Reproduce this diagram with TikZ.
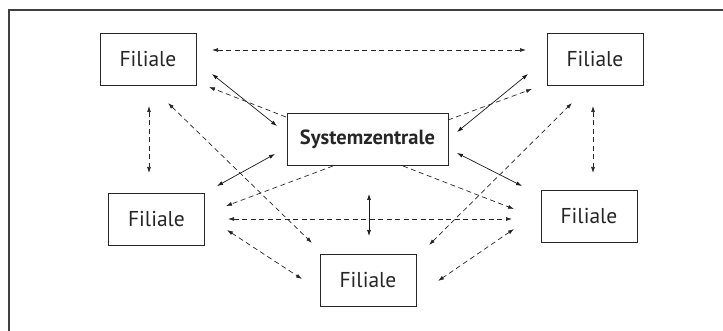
\documentclass[tikz,border=0pt]{standalone}
\usepackage{fontspec}
\setmainfont{PT Sans}
\usetikzlibrary{arrows.meta}
\begin{document}
\begin{tikzpicture}[x=1pt,y=-1pt,
  box/.style={draw=black!85,line width=0.9pt,minimum width=#1,minimum height=52pt,inner sep=0pt,font=\fontsize{21.5}{24}\selectfont,text=black!85},
  box/.default=96pt,
  tip/.style={-{Latex[length=6pt,width=4pt]}},
  dtip/.style={{Latex[length=6pt,width=4pt]}-{Latex[length=6pt,width=4pt]}},
  sol/.style={line width=0.7pt,draw=black!90},
  dsh/.style={line width=0.7pt,draw=black!85,dash pattern=on 5pt off 3.5pt}]
\useasboundingbox (0,0) rectangle (723,331);
\draw[line width=1.3pt,black!75] (9,331) -- (9,10) -- (723,10);
% boxes
\node[box] (tl) at (148,59) {Filiale};
\node[box] (tr) at (595,59) {Filiale};
\node[box=161pt,font=\fontsize{20.5}{24}\selectfont\bfseries] (sz) at (367.5,139) {Systemzentrale};
\node[box] (ml) at (156.5,219) {Filiale};
\node[box] (mr) at (589,216.5) {Filiale};
\node[box] (bo) at (368,280) {Filiale};
% end points
\coordinate (a1) at (212,50); \coordinate (a2) at (526,50);
\coordinate (b1) at (212,74); \coordinate (b2) at (277,126);
\coordinate (c1) at (286,117); \coordinate (c2) at (209,87);
\coordinate (d1) at (168,103); \coordinate (d2) at (312,243);
\coordinate (e1) at (149,106); \coordinate (e2) at (149,173);
\coordinate (f1) at (217,186); \coordinate (f2) at (275,154);
\coordinate (g1) at (333,166); \coordinate (g2) at (226,206);
\coordinate (h1) at (228,219); \coordinate (h2) at (512,219);
\coordinate (i1) at (227,230); \coordinate (i2) at (302,279);
\coordinate (j1) at (369,194); \coordinate (j2) at (369,236);
\coordinate (k1) at (403,166); \coordinate (k2) at (514,209);
\coordinate (l1) at (522,186); \coordinate (l2) at (457,153);
\coordinate (m1) at (429,245); \coordinate (m2) at (572,103);
\coordinate (n1) at (514,229); \coordinate (n2) at (438,281);
\coordinate (o1) at (593,106); \coordinate (o2) at (593,173);
\coordinate (p1) at (457,132); \coordinate (p2) at (528,74);
\coordinate (q1) at (448,120); \coordinate (q2) at (532,89);
% connectors
\draw[dsh,dtip] (a1) -- (a2);
\draw[sol,dtip] (b1) -- (b2);
\draw[dsh,tip] (c1) -- (c2);
\draw[dsh,dtip] (d1) -- (d2);
\draw[dsh,dtip] (e1) -- (e2);
\draw[sol,dtip] (f1) -- (f2);
\draw[dsh,tip] (g1) -- (g2);
\draw[dsh,dtip] (h1) -- (h2);
\draw[dsh,dtip] (i1) -- (i2);
\draw[sol,dtip] (j1) -- (j2);
\draw[dsh,tip] (k1) -- (k2);
\draw[sol,dtip] (l1) -- (l2);
\draw[dsh,dtip] (m1) -- (m2);
\draw[dsh,dtip] (n1) -- (n2);
\draw[dsh,dtip] (o1) -- (o2);
\draw[sol,dtip] (p1) -- (p2);
\draw[dsh,tip] (q1) -- (q2);
\end{tikzpicture}
\end{document}
